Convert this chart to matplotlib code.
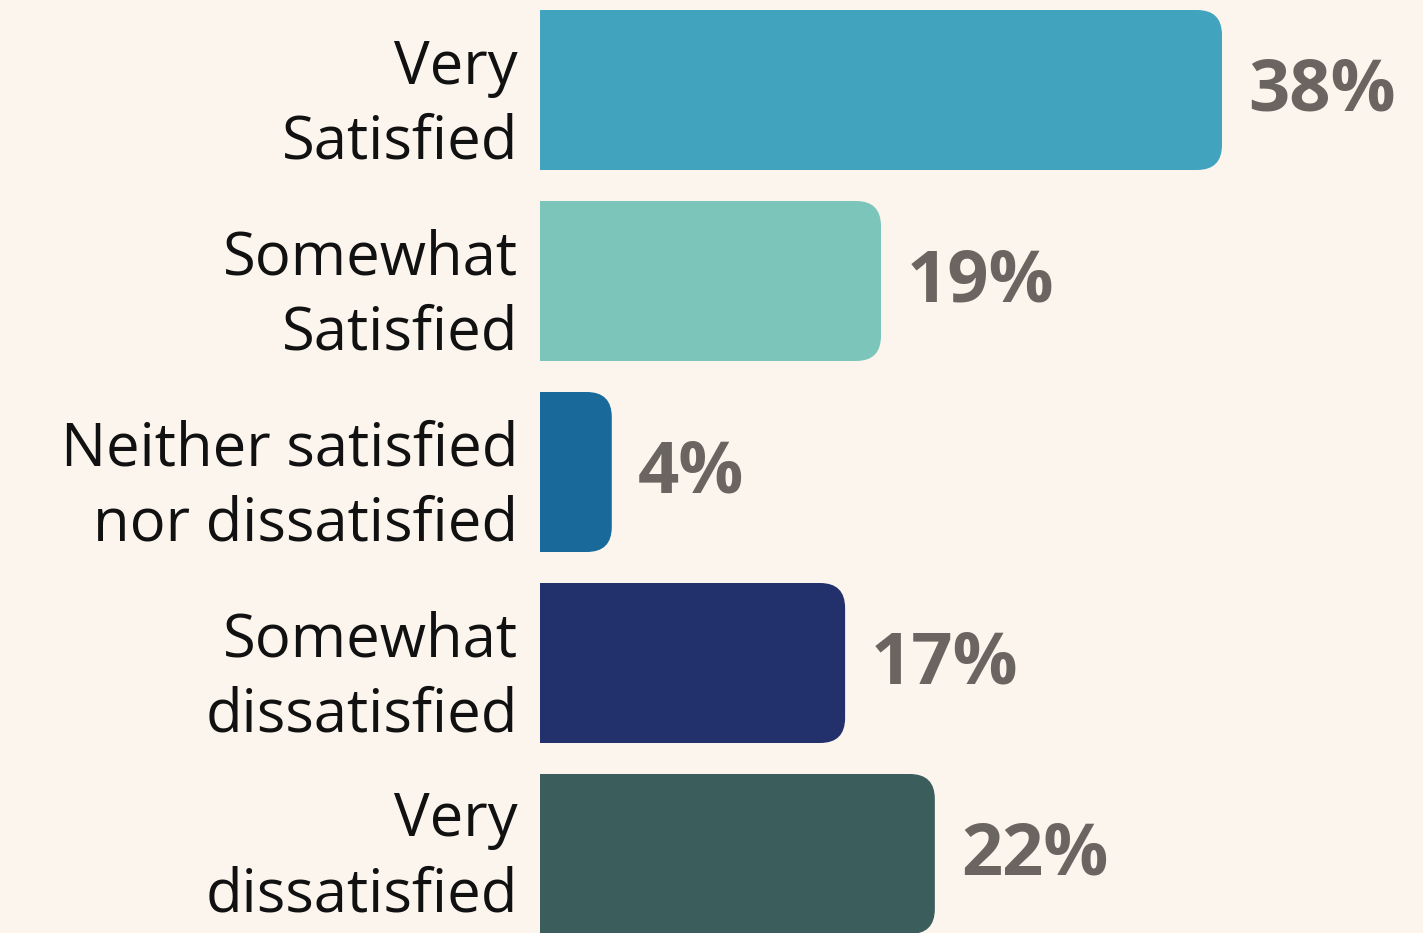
import matplotlib as mpl
mpl.use('Agg')
import matplotlib.pyplot as plt
from matplotlib.patches import FancyBboxPatch, Rectangle

# survey answers, top to bottom
labels = ['Very\nSatisfied', 'Somewhat\nSatisfied', 'Neither satisfied\nnor dissatisfied',
          'Somewhat\ndissatisfied', 'Very\ndissatisfied']
values = [38, 19, 4, 17, 22]
colors = ['#41a3be', '#7bc5bb', '#19699b', '#22306b', '#3b5d5b']

bg = '#fcf5ee'
W, H = 1423, 933
fig = plt.figure(figsize=(W / 100, H / 100), dpi=100, facecolor=bg)

# axes start where the bars start
left_px = 540
ax = fig.add_axes([left_px / W, 0, 1 - left_px / W, 1])
ax.set_facecolor(bg)
px_per_unit = 682 / 38.0
ax.set_xlim(0, (W - left_px) / px_per_unit)
step = 191.0
ax.set_ylim((H - 90) / step, -90 / step)
ax.axis('off')

bh = 160 / step
r_x = 25 / px_per_unit
r_y = 25 / step
# last label sits a little higher so it is not clipped
label_shift = [0.08, 0.08, 0.08, 0.08, 0.02]
for i, (v, c) in enumerate(zip(values, colors)):
    y0 = i - bh / 2
    box = FancyBboxPatch((0, y0), v, bh,
                         boxstyle='round,pad=0,rounding_size=%f' % r_x,
                         mutation_aspect=r_y / r_x, fc=c, ec='none')
    ax.add_patch(box)
    # square off the left end
    ax.add_patch(Rectangle((0, y0), v / 2, bh, fc=c, ec='none'))
    ax.text(v + 26 / px_per_unit, i + 0.01, '%d%%' % v, ha='left', va='center',
            fontsize=52, fontweight='bold', color='#6a6560', family='Open Sans')
    ax.text(-22 / px_per_unit, i + label_shift[i], labels[i], ha='right', va='center',
            fontsize=43, color='#111111', family='Open Sans', linespacing=1.32,
            clip_on=False)

fig.savefig('out.png', dpi=100, facecolor=bg)
